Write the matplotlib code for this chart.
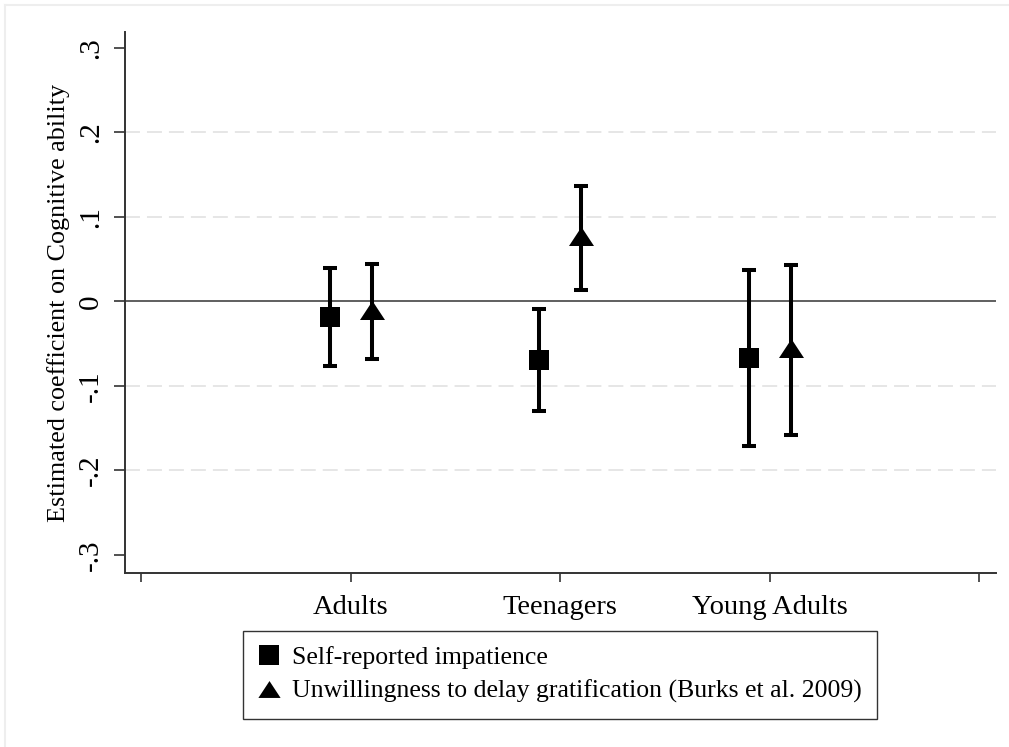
import numpy as np
import matplotlib.pyplot as plt
from matplotlib.lines import Line2D

plt.rcParams['font.family'] = ['Liberation Serif', 'DejaVu Serif']

## ###############################
##  DATA
## ###############################
groups = ['Adults', 'Teenagers', 'Young Adults']
xpos = [1, 2, 3]

# self-reported impatience
sr_coef = [-0.0186, -0.0690, -0.0666]
sr_lo = [-0.0769, -0.1293, -0.1711]
sr_hi = [0.0394, -0.0091, 0.0375]

# unwillingness to delay gratification
ud_coef = [-0.0098, 0.0772, -0.0552]
ud_lo = [-0.0686, 0.0130, -0.1585]
ud_hi = [0.0441, 0.1364, 0.0426]

labels = ['Self-reported impatience',
          'Unwillingness to delay gratification (Burks et al. 2009)']
yticks = [-0.3, -0.2, -0.1, 0, 0.1, 0.2, 0.3]
yticklabels = ['-.3', '-.2', '-.1', '0', '.1', '.2', '.3']
xticks = [0, 1, 2, 3, 4]
xticklabels = ['', 'Adults', 'Teenagers', 'Young Adults', '']

# triangle a bit flatter than matplotlib's '^'
tri = [(-1, -0.76), (1, -0.76), (0, 0.76), (-1, -0.76)]

############################
# PLOT
############################
fig = plt.figure(figsize=(10.09, 7.47), dpi=100)
ax = fig.add_axes([125/1009, 1-573/747, (996-125)/1009, (573-32)/747])

# gridlines and zero line
for yv in [-0.2, -0.1, 0.1, 0.2]:
  ax.axhline(yv, color='#e6e6e6', linewidth=1.4, linestyle=(0, (7.7, 3.6)), zorder=0)
ax.axhline(0, color='#444444', linewidth=1.2, zorder=1)

off = 0.1
x_sr = np.array(xpos) - off
x_ud = np.array(xpos) + off
sr_err = [np.array(sr_coef) - np.array(sr_lo), np.array(sr_hi) - np.array(sr_coef)]
ud_err = [np.array(ud_coef) - np.array(ud_lo), np.array(ud_hi) - np.array(ud_coef)]

ax.errorbar(x_sr, sr_coef, yerr=sr_err, fmt='none', ecolor='black', elinewidth=2.9,
            capsize=5, capthick=2.9, zorder=2)
ax.errorbar(x_ud, ud_coef, yerr=ud_err, fmt='none', ecolor='black', elinewidth=2.9,
            capsize=5, capthick=2.9, zorder=2)
ax.plot(x_sr, sr_coef, linestyle='none', marker='s', markersize=15, color='black',
        markeredgewidth=0, zorder=3)
ax.plot(x_ud, ud_coef, linestyle='none', marker=tri, markersize=18, color='black',
        markeredgewidth=0, zorder=3)

ax.set_xlim(-0.077, 4.08)
ax.set_ylim(-0.3213, 0.3186)
ax.set_yticks(yticks)
ax.set_yticklabels(yticklabels, rotation=90, va='center')
ax.set_xticks(xticks)
ax.set_xticklabels(xticklabels)
ax.tick_params(axis='y', length=8, width=1.2, color='#333333', labelsize=21, pad=7)
ax.tick_params(axis='x', length=6.5, width=1.2, color='#333333', labelsize=20.5, pad=9)
ax.set_ylabel('Estimated coefficient on Cognitive ability', fontsize=18.8, labelpad=6)

for s in ['top', 'right']:
  ax.spines[s].set_visible(False)
for s in ['left', 'bottom']:
  ax.spines[s].set_color('#333333')
  ax.spines[s].set_linewidth(1.4)

handles = [Line2D([], [], linestyle='none', marker='s', markersize=14, color='black', markeredgewidth=0),
           Line2D([], [], linestyle='none', marker=tri, markersize=16, color='black', markeredgewidth=0)]
leg = fig.legend(handles, labels, loc='upper center', bbox_to_anchor=(560/1009, 1-631/747),
                 fontsize=18.5, frameon=True, fancybox=False, handlelength=0.8,
                 handletextpad=0.5, labelspacing=0.4, borderpad=0.6, borderaxespad=0)
leg.get_frame().set_edgecolor('black')
leg.get_frame().set_linewidth(1.0)

# faint outer frame
fig.add_artist(Line2D([5/1009, 5/1009], [0, 1-5/747], transform=fig.transFigure,
                      color='#eeeeee', linewidth=1.5))
fig.add_artist(Line2D([5/1009, 1], [1-5/747, 1-5/747], transform=fig.transFigure,
                      color='#eeeeee', linewidth=1.5))

outfile = 'out.png'
plt.savefig(outfile, dpi=100, facecolor='w', edgecolor='w')
